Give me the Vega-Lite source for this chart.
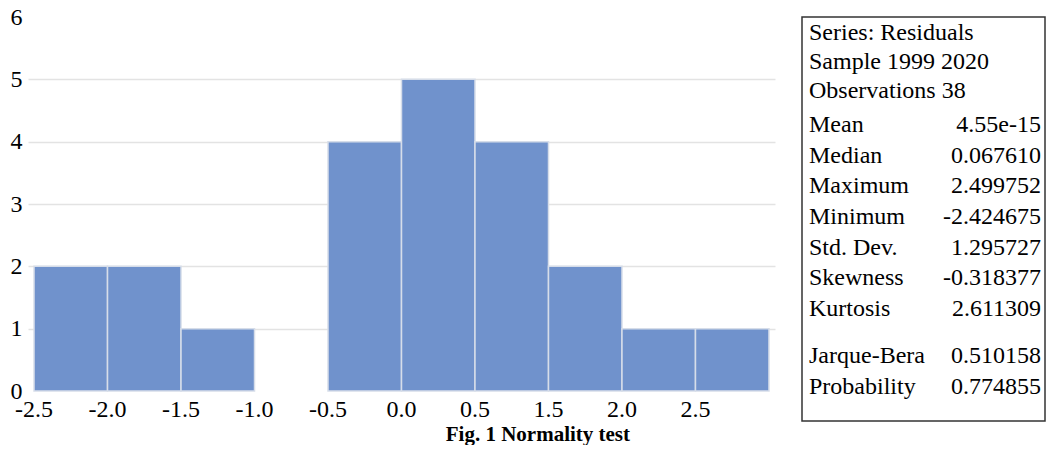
{
  "$schema": "https://vega.github.io/schema/vega-lite/v6.json",
  "background": "white",
  "padding": {"left": 10, "top": 5, "right": 0, "bottom": 0},
  "bounds": "flush",
  "spacing": 27,
  "title": {"text": "Fig. 1 Normality test", "orient": "bottom", "anchor": "middle", "font": "Liberation Serif", "fontSize": 21, "fontWeight": "bold", "color": "black", "offset": 2, "dx": 10},
  "config": {"font": "Liberation Serif", "view": {"stroke": null}},
  "hconcat": [
    {
      "width": 747,
      "height": 374,
      "data": {"values": [
        {"bin": "-2.5", "count": 2},
        {"bin": "-2.0", "count": 2},
        {"bin": "-1.5", "count": 1},
        {"bin": "-1.0", "count": 0},
        {"bin": "-0.5", "count": 4},
        {"bin": "0.0", "count": 5},
        {"bin": "0.5", "count": 4},
        {"bin": "1.5", "count": 2},
        {"bin": "2.0", "count": 1},
        {"bin": "2.5", "count": 1}
      ]},
      "transform": [{"filter": "datum.count > 0"}],
      "mark": {"type": "bar", "color": "#7092cc", "stroke": "#d6dde9", "strokeWidth": 1.5},
      "encoding": {
        "x": {
          "field": "bin", "type": "ordinal", "sort": null,
          "scale": {"domain": ["-2.5", "-2.0", "-1.5", "-1.0", "-0.5", "0.0", "0.5", "1.5", "2.0", "2.5"], "paddingInner": 0, "paddingOuter": 0.082},
          "axis": {"title": null, "ticks": false, "domain": false, "labelAngle": 0, "labelFontSize": 24, "labelColor": "black", "labelPadding": 6, "labelOffset": -36.75, "grid": false}
        },
        "y": {
          "field": "count", "type": "quantitative",
          "scale": {"domain": [0, 6], "nice": false},
          "axis": {"title": null, "values": [0, 1, 2, 3, 4, 5, 6], "ticks": false, "domain": false, "labelFontSize": 24, "labelColor": "black", "labelPadding": 6, "grid": true, "gridColor": "#e3e3e3", "gridWidth": 1.3, "gridOpacity": {"condition": {"test": "datum.value == 0 || datum.value == 6", "value": 0}, "value": 1}}
        }
      }
    },
    {
      "width": 243,
      "height": 404,
      "view": {"stroke": "#333333", "strokeWidth": 1.5},
      "data": {"values": [
        {"line": 1, "label": "Series: Residuals", "value": ""},
        {"line": 2, "label": "Sample 1999 2020", "value": ""},
        {"line": 3, "label": "Observations 38", "value": ""},
        {"line": 4, "label": "Mean", "value": "4.55e-15"},
        {"line": 5, "label": "Median", "value": "0.067610"},
        {"line": 6, "label": "Maximum", "value": "2.499752"},
        {"line": 7, "label": "Minimum", "value": "-2.424675"},
        {"line": 8, "label": "Std. Dev.", "value": "1.295727"},
        {"line": 9, "label": "Skewness", "value": "-0.318377"},
        {"line": 10, "label": "Kurtosis", "value": "2.611309"},
        {"line": 11, "label": "Jarque-Bera", "value": "0.510158"},
        {"line": 12, "label": "Probability", "value": "0.774855"}
      ]},
      "encoding": {
        "y": {"field": "line", "type": "quantitative", "scale": {"domain": [1, 3, 4, 10, 11, 12], "range": [16, 74, 108, 292, 339, 370], "nice": false, "zero": false}, "axis": null}
      },
      "layer": [
        {
          "mark": {"type": "text", "align": "left", "baseline": "middle", "fontSize": 24, "color": "black", "dx": 7},
          "encoding": {
            "x": {"datum": "label", "type": "nominal", "scale": {"type": "point", "domain": ["label", "value"], "padding": 0}, "axis": null},
            "text": {"field": "label"}
          }
        },
        {
          "mark": {"type": "text", "align": "right", "baseline": "middle", "fontSize": 24, "color": "black", "dx": -4},
          "encoding": {
            "x": {"datum": "value", "type": "nominal"},
            "text": {"field": "value"}
          }
        }
      ]
    }
  ]
}
